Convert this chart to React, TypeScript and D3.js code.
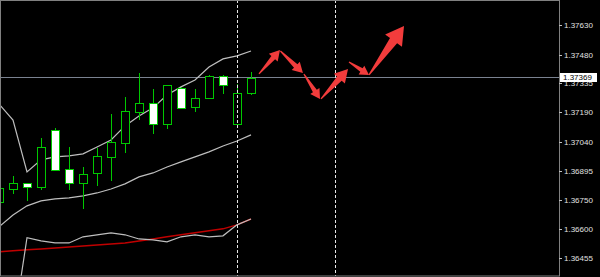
import React from "react";
import * as d3 from "d3";

const W = 600;
const H = 277;

// bar indices (time slots)
const barIndex = [0, 1, 2, 3, 4, 5, 6, 7, 8, 9, 10, 11, 12, 13, 14, 15, 16, 17, 18];

const openP = [1.36738, 1.36803, 1.36834, 1.36814, 1.37101, 1.36904, 1.36834, 1.36884, 1.36965, 1.37035, 1.37192, 1.37237, 1.37131, 1.37313, 1.37217, 1.37262, 1.37373, 1.37131, 1.37287];
const highP = [1.36819, 1.36869, 1.36834, 1.37061, 1.37111, 1.37015, 1.36914, 1.37010, 1.37181, 1.37267, 1.37388, 1.37307, 1.37328, 1.37318, 1.37307, 1.37378, 1.37378, 1.37333, 1.37393];
const lowP = [1.36728, 1.36783, 1.36748, 1.36803, 1.36899, 1.36803, 1.36708, 1.36824, 1.36849, 1.36990, 1.37156, 1.37086, 1.37111, 1.37212, 1.37197, 1.37262, 1.37287, 1.37131, 1.37282];
const closeP = [1.36808, 1.36834, 1.36814, 1.37015, 1.36899, 1.36834, 1.36879, 1.36970, 1.37040, 1.37197, 1.37237, 1.37131, 1.37328, 1.37212, 1.37262, 1.37373, 1.37328, 1.37287, 1.37363];

const upperBand = [1.37232, 1.37151, 1.36889, 1.36950, 1.36965, 1.36970, 1.36980, 1.37015, 1.37050, 1.37121, 1.37171, 1.37212, 1.37277, 1.37318, 1.37353, 1.37418, 1.37459, 1.37474, 1.37499];
const lowerBand = [1.36612, 1.36672, 1.36718, 1.36743, 1.36753, 1.36758, 1.36768, 1.36783, 1.36803, 1.36829, 1.36864, 1.36884, 1.36914, 1.36940, 1.36965, 1.36990, 1.37020, 1.37045, 1.37076];
const grayLine = [1.36042, 1.36093, 1.36557, 1.36541, 1.36531, 1.36531, 1.36562, 1.36572, 1.36582, 1.36572, 1.36551, 1.36546, 1.36536, 1.36562, 1.36572, 1.36562, 1.36567, 1.36622, 1.36652];
const redLine = [1.36486, 1.36491, 1.36496, 1.36501, 1.36506, 1.36511, 1.36516, 1.36521, 1.36526, 1.36531, 1.36541, 1.36551, 1.36562, 1.36572, 1.36582, 1.36592, 1.36602, 1.36622, 1.36652];

const tickValues = [1.3763, 1.3748, 1.37335, 1.3719, 1.3704, 1.36895, 1.3675, 1.366, 1.36455];
const tickLabels = ["1.37630", "1.37480", "1.37335", "1.37190", "1.37040", "1.36895", "1.36750", "1.36600", "1.36455"];
const lastPrice = 1.37369;
const lastPriceLabel = "1.37369";

const separatorIdx = [17, 24];

// forecast arrows (in bar index / price)
const arrowFromIdx = [18.57, 20.1, 21.78, 23.0, 25.0, 26.43];
const arrowFromPrice = [1.37383, 1.37499, 1.37383, 1.37257, 1.37444, 1.37378];
const arrowToIdx = [20.07, 21.71, 22.93, 24.93, 26.43, 28.93];
const arrowToPrice = [1.37504, 1.37388, 1.37257, 1.37408, 1.37378, 1.37625];

const PLOT_R = 559;
const PLOT_B = 276;

export default function App() {
  const x = d3.scaleLinear().domain([0, 18]).range([-1, 251]);
  const y = d3.scaleLinear().domain([1.36455, 1.3763]).range([258, 25]);

  const line = d3
    .line<number>()
    .x((_, i) => x(barIndex[i]))
    .y((v) => y(v));

  const green = "#00c800";

  const arrowPath = (k: number) => {
    const x1 = x(arrowFromIdx[k]);
    const y1 = y(arrowFromPrice[k]);
    const x2 = x(arrowToIdx[k]);
    const y2 = y(arrowToPrice[k]);
    const dx = x2 - x1;
    const dy = y2 - y1;
    const len = Math.sqrt(dx * dx + dy * dy);
    const ux = dx / len;
    const uy = dy / len;
    const nx = -uy;
    const ny = ux;
    const hl = Math.max(9, Math.min(18, len * 0.32));
    const hw = hl * 1.15;
    const sw = hw * 0.42;
    const w0 = 1.2;
    const bx = x2 - ux * hl;
    const by = y2 - uy * hl;
    const pts: [number, number][] = [
      [x1 + (nx * w0) / 2, y1 + (ny * w0) / 2],
      [bx + (nx * sw) / 2, by + (ny * sw) / 2],
      [bx + (nx * hw) / 2, by + (ny * hw) / 2],
      [x2, y2],
      [bx - (nx * hw) / 2, by - (ny * hw) / 2],
      [bx - (nx * sw) / 2, by - (ny * sw) / 2],
      [x1 - (nx * w0) / 2, y1 - (ny * w0) / 2],
    ];
    return "M" + pts.map((p) => p[0].toFixed(2) + "," + p[1].toFixed(2)).join("L") + "Z";
  };

  const lpY = Math.round(y(lastPrice)) + 0.5;

  return (
    <svg
      width={W}
      height={H}
      style={{ position: "fixed", left: 0, top: 0, display: "block", background: "#000" }}
      fontFamily="'Liberation Sans', Arial, sans-serif"
    >
      <defs>
        <clipPath id="plot">
          <rect x={0} y={0} width={PLOT_R} height={PLOT_B} />
        </clipPath>
      </defs>
      <rect x={0} y={0} width={W} height={H} fill="#000" />

      <g clipPath="url(#plot)">
        {/* last price line */}
        <line x1={0} x2={PLOT_R} y1={lpY} y2={lpY} stroke="#7a8290" strokeWidth={1} />

        {/* indicator lines */}
        <path d={line(redLine) || ""} fill="none" stroke="#c00000" strokeWidth={1.5} />
        <path d={line(grayLine) || ""} fill="none" stroke="#bebebe" strokeWidth={1.2} />
        <path d={line(upperBand) || ""} fill="none" stroke="#bebebe" strokeWidth={1.2} />
        <path d={line(lowerBand) || ""} fill="none" stroke="#bebebe" strokeWidth={1.2} />

        {/* candles */}
        {barIndex.map((b, i) => {
          const cx = Math.round(x(b));
          const bull = closeP[i] >= openP[i];
          const top = Math.round(y(Math.max(openP[i], closeP[i])));
          const bot = Math.round(y(Math.min(openP[i], closeP[i])));
          const hi = Math.round(y(highP[i]));
          const lo = Math.round(y(lowP[i]));
          return (
            <g key={i}>
              <rect x={cx} y={hi} width={1} height={lo - hi + 1} fill={green} />
              <rect x={cx - 4} y={top} width={9} height={Math.max(2, bot - top + 1)} fill={green} />
              <rect
                x={cx - 3}
                y={top + 1}
                width={7}
                height={Math.max(0, bot - top - 1)}
                fill={bull ? "#000" : "#fff"}
              />
            </g>
          );
        })}

        {/* period separators */}
        {separatorIdx.map((s) => (
          <line
            key={s}
            x1={Math.round(x(s)) + 0.5}
            x2={Math.round(x(s)) + 0.5}
            y1={0}
            y2={PLOT_B}
            stroke="#e8e8e8"
            strokeWidth={1}
            strokeDasharray="3,2"
          />
        ))}

        {/* arrows */}
        {arrowFromIdx.map((_, k) => (
          <path key={k} d={arrowPath(k)} fill="#f23c3c" />
        ))}
      </g>

      {/* frame */}
      <rect x={0.5} y={0.5} width={PLOT_R} height={PLOT_B - 0.5} fill="none" stroke="#808080" strokeWidth={1} />

      {/* axis ticks & labels */}
      {tickValues.map((t, i) => {
        const ty = Math.round(y(t)) + 0.5;
        return (
          <g key={i}>
            <line x1={PLOT_R} x2={PLOT_R + 3} y1={ty} y2={ty} stroke="#c0c0c0" strokeWidth={1} />
            <text x={564} y={ty} dy="0.35em" fontSize={8} fill="#e0e0e0">
              {tickLabels[i]}
            </text>
          </g>
        );
      })}

      {/* last price label */}
      <rect x={560} y={lpY - 4.5} width={37} height={9} fill="#fff" />
      <text x={563} y={lpY} dy="0.35em" fontSize={8} fill="#000">
        {lastPriceLabel}
      </text>
    </svg>
  );
}
